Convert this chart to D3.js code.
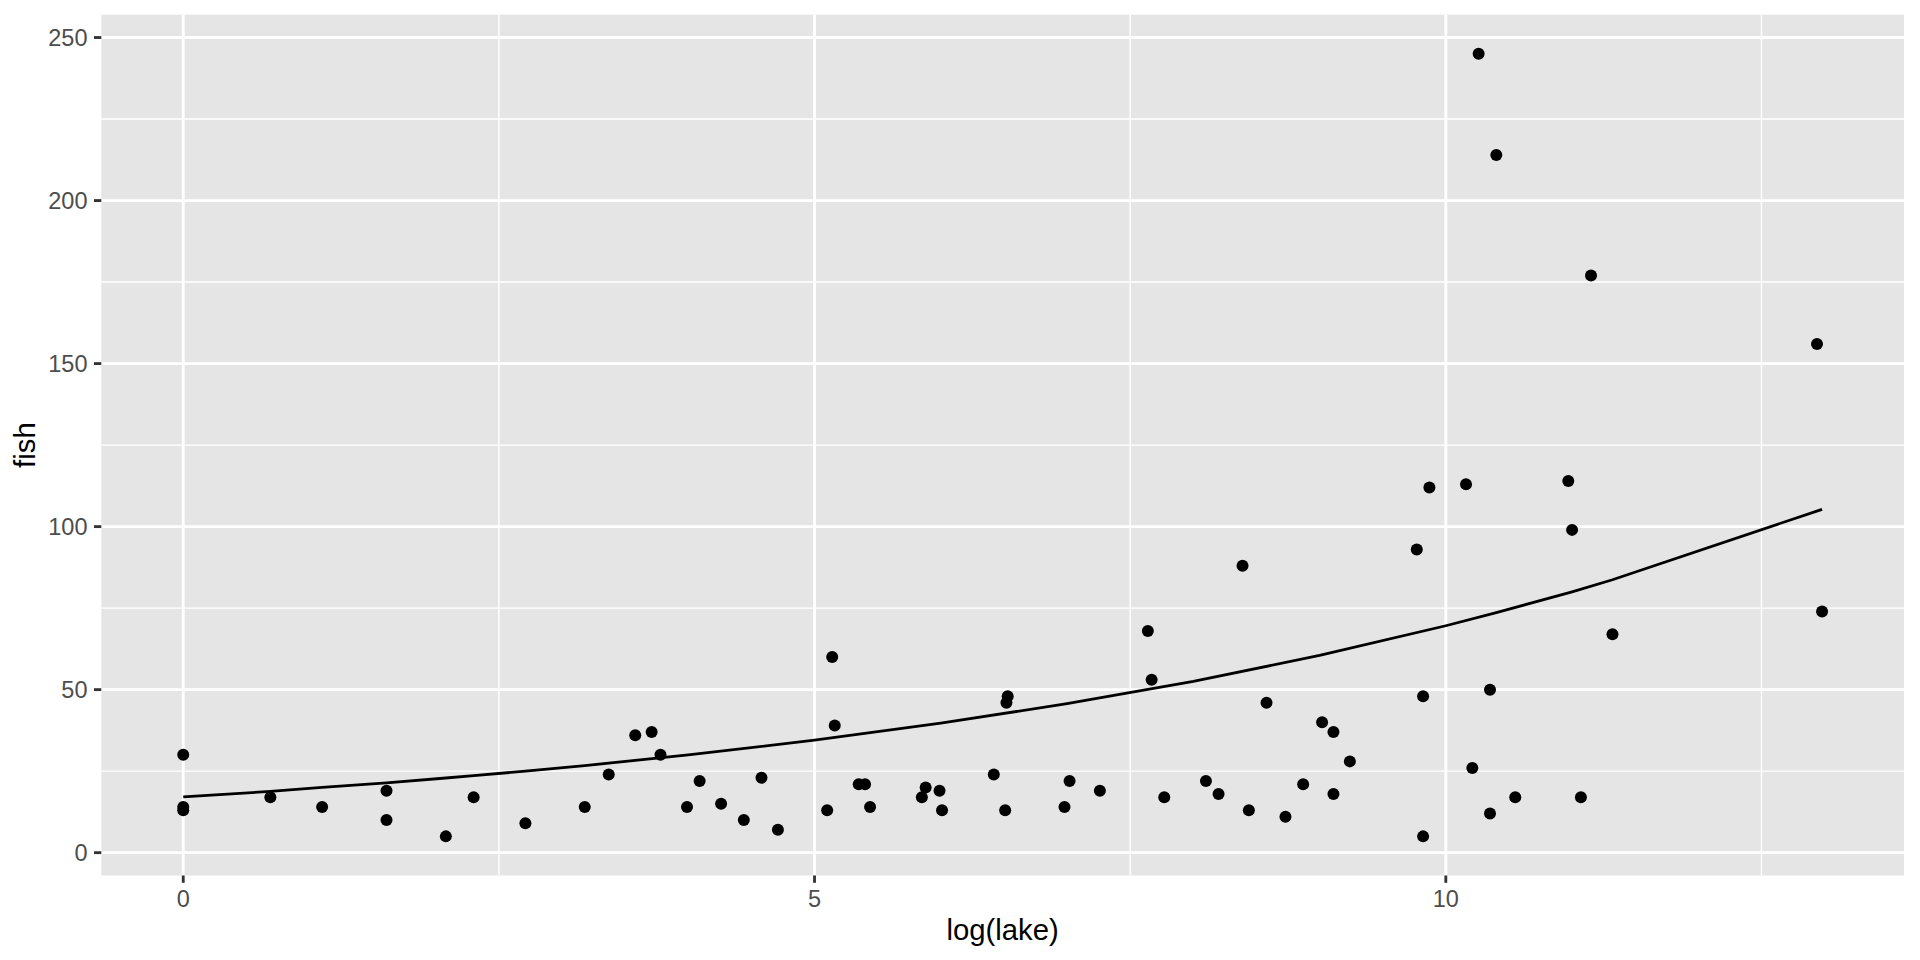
<!DOCTYPE html>
<html>
<head>
<meta charset="utf-8">
<script src="https://cdn.jsdelivr.net/npm/d3@7"></script>
<style>
  html, body { margin: 0; padding: 0; background: #ffffff; }
  svg { display: block; }
  text { font-family: "Liberation Sans", Arial, Helvetica, sans-serif; }
</style>
</head>
<body>
<svg id="chart" width="1920" height="960"></svg>
<script>
// ---- data ----
const logLake = [0, 0, 0, 0.69, 1.10, 1.61, 1.61, 2.08, 2.30, 2.71,
  3.18, 3.37, 3.58, 3.71, 3.78, 3.99, 4.09, 4.26, 4.44, 4.58,
  4.71, 5.10, 5.14, 5.16, 5.35, 5.40, 5.44, 5.85, 5.88, 5.99,
  6.01, 6.42, 6.51, 6.52, 6.53, 6.98, 7.02, 7.26, 7.64, 7.67,
  7.77, 8.10, 8.20, 8.39, 8.44, 8.58, 8.73, 8.87, 9.02, 9.11,
  9.11, 9.24, 9.77, 9.82, 9.82, 9.87, 10.16, 10.21, 10.26, 10.35,
  10.35, 10.40, 10.55, 10.97, 11.00, 11.07, 11.15, 11.32, 12.94, 12.98];
const fish = [30, 14, 13, 17, 14, 19, 10, 5, 17, 9,
  14, 24, 36, 37, 30, 14, 22, 15, 10, 23,
  7, 13, 60, 39, 21, 21, 14, 17, 20, 19,
  13, 24, 13, 46, 48, 14, 22, 19, 68, 53,
  17, 22, 18, 88, 13, 46, 11, 21, 40, 37,
  18, 28, 93, 48, 5, 112, 113, 26, 245, 12,
  50, 214, 17, 114, 99, 17, 177, 67, 156, 74];

// fitted curve at several x positions
const fitX = [0, 0.69, 1.10, 1.61, 2.08, 2.30, 2.71, 3.18, 4, 5, 6, 7, 8, 9, 10, 10.4, 11, 11.32, 12.98];
const fitY = [17.1, 18.8, 20.0, 21.4, 22.9, 23.6, 25.0, 26.7, 30.0, 34.5, 39.7, 45.7, 52.5, 60.5, 69.6, 73.6, 80.0, 83.7, 105.3];

const xTicks = [0, 5, 10];
const xMinor = [2.5, 7.5, 12.5];
const yTicks = [0, 50, 100, 150, 200, 250];
const yMinor = [25, 75, 125, 175, 225];
const xTitle = "log(lake)";
const yTitle = "fish";

// ---- layout ----
const svg = d3.select("#chart");
const panel = { left: 101.3, right: 1904, top: 14.7, bottom: 875.5 };

const xExt = d3.extent(logLake);
const yExt = d3.extent(fish);
const xPad = (xExt[1] - xExt[0]) * 0.05;
const yPad = (yExt[1] - yExt[0]) * 0.05;

const x = d3.scaleLinear().domain([xExt[0] - xPad, xExt[1] + xPad]).range([panel.left, panel.right]);
const y = d3.scaleLinear().domain([yExt[0] - yPad, yExt[1] + yPad]).range([panel.bottom, panel.top]);

// panel background
svg.append("rect")
  .attr("x", panel.left).attr("y", panel.top)
  .attr("width", panel.right - panel.left).attr("height", panel.bottom - panel.top)
  .attr("fill", "#E5E5E5");

const grid = svg.append("g");
// minor grid
grid.selectAll("line.ymin").data(yMinor).enter().append("line")
  .attr("x1", panel.left).attr("x2", panel.right)
  .attr("y1", d => y(d)).attr("y2", d => y(d))
  .attr("stroke", "#ffffff").attr("stroke-width", 1.42);
grid.selectAll("line.xmin").data(xMinor).enter().append("line")
  .attr("y1", panel.top).attr("y2", panel.bottom)
  .attr("x1", d => x(d)).attr("x2", d => x(d))
  .attr("stroke", "#ffffff").attr("stroke-width", 1.42);
// major grid
grid.selectAll("line.ymaj").data(yTicks).enter().append("line")
  .attr("x1", panel.left).attr("x2", panel.right)
  .attr("y1", d => y(d)).attr("y2", d => y(d))
  .attr("stroke", "#ffffff").attr("stroke-width", 2.85);
grid.selectAll("line.xmaj").data(xTicks).enter().append("line")
  .attr("y1", panel.top).attr("y2", panel.bottom)
  .attr("x1", d => x(d)).attr("x2", d => x(d))
  .attr("stroke", "#ffffff").attr("stroke-width", 2.85);

// fitted line
const line = d3.line().x((d, i) => x(fitX[i])).y(d => y(d));
svg.append("path")
  .datum(fitY)
  .attr("d", line)
  .attr("fill", "none")
  .attr("stroke", "#000000")
  .attr("stroke-width", 2.8);

// points
svg.append("g").selectAll("circle").data(fish).enter().append("circle")
  .attr("cx", (d, i) => x(logLake[i]))
  .attr("cy", d => y(d))
  .attr("r", 6)
  .attr("fill", "#000000");

// axes
const tickLen = 7.3;
const fontTick = 23.5;
const yAxis = svg.append("g");
yAxis.selectAll("line").data(yTicks).enter().append("line")
  .attr("x1", panel.left - tickLen).attr("x2", panel.left)
  .attr("y1", d => y(d)).attr("y2", d => y(d))
  .attr("stroke", "#333333").attr("stroke-width", 2.85);
yAxis.selectAll("text").data(yTicks).enter().append("text")
  .attr("x", panel.left - tickLen - 6.5)
  .attr("y", d => y(d) + fontTick * 0.36)
  .attr("text-anchor", "end")
  .attr("font-size", fontTick)
  .attr("fill", "#4D4D4D")
  .text(d => d);

const xAxis = svg.append("g");
xAxis.selectAll("line").data(xTicks).enter().append("line")
  .attr("y1", panel.bottom).attr("y2", panel.bottom + tickLen)
  .attr("x1", d => x(d)).attr("x2", d => x(d))
  .attr("stroke", "#333333").attr("stroke-width", 2.85);
xAxis.selectAll("text").data(xTicks).enter().append("text")
  .attr("x", d => x(d))
  .attr("y", 906.7)
  .attr("text-anchor", "middle")
  .attr("font-size", fontTick)
  .attr("fill", "#4D4D4D")
  .text(d => d);

// axis titles
svg.append("text")
  .attr("x", (panel.left + panel.right) / 2)
  .attr("y", 940)
  .attr("text-anchor", "middle")
  .attr("font-size", 29.3)
  .attr("fill", "#000000")
  .text(xTitle);

svg.append("text")
  .attr("transform", `translate(35,${(panel.top + panel.bottom) / 2}) rotate(-90)`)
  .attr("text-anchor", "middle")
  .attr("font-size", 29.3)
  .attr("fill", "#000000")
  .text(yTitle);
</script>
</body>
</html>
